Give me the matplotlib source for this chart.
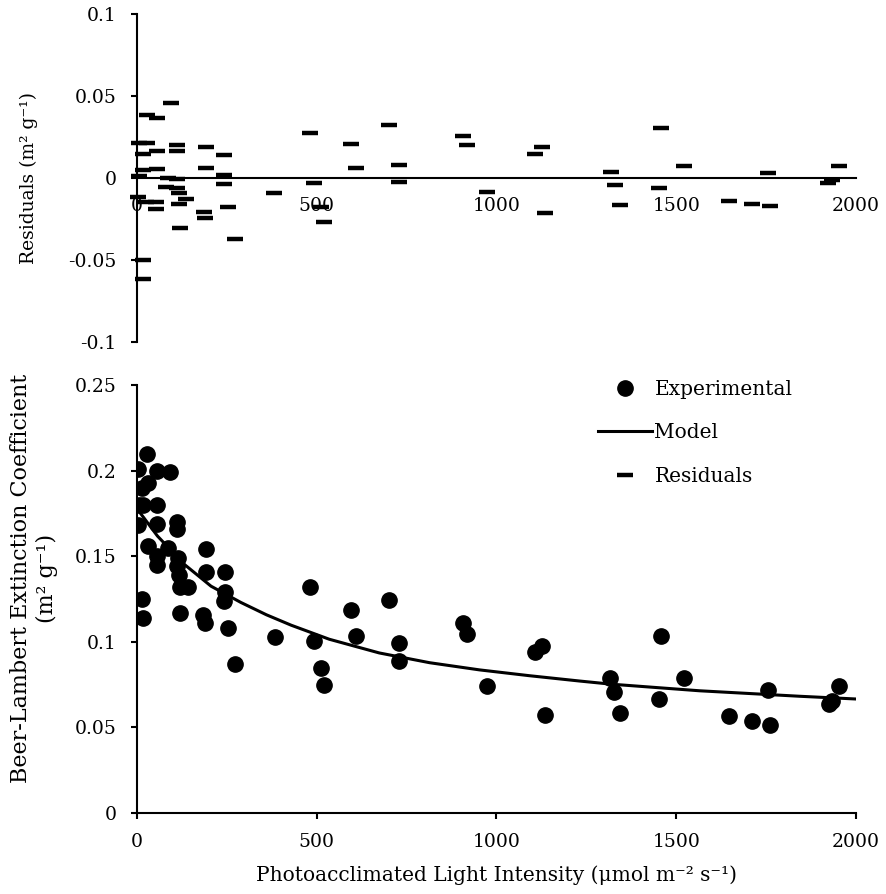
import matplotlib
matplotlib.use("Agg")
import matplotlib.pyplot as plt
from matplotlib.ticker import FormatStrFormatter

plt.rcParams["font.family"] = ["DejaVu Serif"]
plt.rcParams["axes.unicode_minus"] = False

# experimental points (light intensity, extinction coefficient)
exp_x = [2, 28, 56, 93, 30, 14, 5, 18, 55, 2, 56, 111, 111, 30, 85, 192,
         55, 55, 115, 110, 118, 120, 141, 192, 245, 246, 241, 14, 16, 120,
         185, 189, 252, 274, 385, 480, 492, 513, 521, 596, 609, 702, 728,
         728, 908, 918, 973, 1107, 1126, 1136, 1317, 1328, 1344, 1458, 1452,
         1523, 1648, 1710, 1755, 1762, 1925, 1934, 1953]
exp_y = [0.201, 0.210, 0.200, 0.199, 0.193, 0.190, 0.180, 0.180, 0.180,
         0.168, 0.169, 0.170, 0.166, 0.156, 0.155, 0.154, 0.150, 0.145,
         0.149, 0.144, 0.139, 0.132, 0.132, 0.141, 0.141, 0.129, 0.124,
         0.125, 0.114, 0.117, 0.1155, 0.111, 0.108, 0.087, 0.103, 0.132,
         0.1007, 0.0847, 0.0749, 0.1185, 0.1032, 0.1247, 0.0993, 0.0886,
         0.111, 0.1044, 0.074, 0.0941, 0.0978, 0.0574, 0.0789, 0.0705,
         0.0584, 0.1032, 0.0667, 0.0789, 0.0564, 0.0535, 0.072, 0.0515,
         0.0638, 0.0652, 0.0744]

# model curve
model_x = [5, 57, 132, 206, 289, 360, 429, 535, 674, 814, 953, 1092, 1231,
           1317, 1565, 1843, 2000]
model_y = [0.1764, 0.1618, 0.1452, 0.1325, 0.1230, 0.1158, 0.1097, 0.1015,
           0.0935, 0.0878, 0.0836, 0.0802, 0.0771, 0.0753, 0.0714, 0.0682,
           0.0666]

# residuals
res_x = [94, 28, 56, 6, 28, 111, 111, 192, 16, 55, 243, 16, 55, 192, 6, 243,
         85, 112, 241, 82, 112, 118, 382, 2, 136, 53, 25, 118, 53, 252, 187,
         190, 120, 274, 16, 16, 480, 493, 512, 521, 596, 610, 702, 728, 730,
         908, 918, 974, 1108, 1126, 1136, 1319, 1330, 1345, 1458, 1451, 1523,
         1648, 1711, 1755, 1761, 1922, 1933, 1952]
res_y = [0.0459, 0.0382, 0.0368, 0.0212, 0.0212, 0.0201, 0.0167, 0.0187,
         0.0145, 0.0165, 0.0140, 0.0047, 0.0055, 0.0063, 0.0015, 0.0018,
         -0.0002, -0.0008, -0.0037, -0.0057, -0.0062, -0.0092, -0.0094,
         -0.0114, -0.0126, -0.0144, -0.0148, -0.0157, -0.0189, -0.0179,
         -0.0207, -0.0241, -0.0307, -0.0369, -0.050, -0.0614, 0.0273,
         -0.0028, -0.0175, -0.0266, 0.0205, 0.0063, 0.0323, 0.0081, -0.0026,
         0.0258, 0.0201, -0.0087, 0.0146, 0.0187, -0.0212, 0.0039, -0.0043,
         -0.0165, 0.0307, -0.0059, 0.0073, -0.0138, -0.0159, 0.0032,
         -0.0173, -0.0033, -0.0012, 0.0073]

fs = 13.5
fig = plt.figure(figsize=(8.86, 8.94), dpi=100)

# residuals panel
ax1 = fig.add_axes([0.1546, 0.6174, 0.8115, 0.3669])
res_line, = ax1.plot(res_x, res_y, ls="none", marker="_", ms=11, mew=3.2,
                     color="black", label="Residuals", clip_on=False)
ax1.set_xlim(0, 2000)
ax1.set_ylim(-0.1, 0.1)
ax1.set_yticks([-0.1, -0.05, 0, 0.05, 0.1])
ax1.yaxis.set_major_formatter(FormatStrFormatter("%g"))
ax1.set_xticks([0, 500, 1000, 1500, 2000])
ax1.spines["top"].set_visible(False)
ax1.spines["right"].set_visible(False)
ax1.spines["bottom"].set_position(("data", 0))
for s in ["left", "bottom"]:
    ax1.spines[s].set_linewidth(1.5)
ax1.tick_params(axis="y", direction="out", length=4.5, width=1.5,
                labelsize=fs, pad=10)
ax1.tick_params(axis="x", length=0, labelsize=fs, pad=14)
ax1.set_ylabel("Residuals (m² g⁻¹)", fontsize=fs)
ax1.yaxis.set_label_coords(-0.138, 0.5)

# extinction coefficient panel
ax2 = fig.add_axes([0.1546, 0.0906, 0.8115, 0.4787])
exp_line, = ax2.plot(exp_x, exp_y, ls="none", marker="o", ms=11,
                     color="black", label="Experimental")
mod_line, = ax2.plot(model_x, model_y, color="black", lw=2.2, label="Model")
ax2.set_xlim(0, 2000)
ax2.set_ylim(0, 0.25)
ax2.set_yticks([0, 0.05, 0.1, 0.15, 0.2, 0.25])
ax2.yaxis.set_major_formatter(FormatStrFormatter("%g"))
ax2.set_xticks([0, 500, 1000, 1500, 2000])
ax2.spines["top"].set_visible(False)
ax2.spines["right"].set_visible(False)
for s in ["left", "bottom"]:
    ax2.spines[s].set_linewidth(1.5)
ax2.tick_params(direction="out", length=4.5, width=1.5, labelsize=fs, pad=10)
ax2.set_ylabel("Beer-Lambert Extinction Coefficient\n(m² g⁻¹)", fontsize=16,
               linespacing=1.25)
ax2.yaxis.set_label_coords(-0.11, 0.549)
ax2.set_xlabel("Photoacclimated Light Intensity (μmol m⁻² s⁻¹)", fontsize=14.5,
               labelpad=10)

ax2.legend(handles=[exp_line, mod_line, res_line], loc="upper left",
           bbox_to_anchor=(0.63, 1.03), frameon=False, fontsize=14.5,
           handlelength=2.7, handletextpad=0.1, labelspacing=1.2,
           borderaxespad=0)

fig.savefig("out.png", dpi=100)
